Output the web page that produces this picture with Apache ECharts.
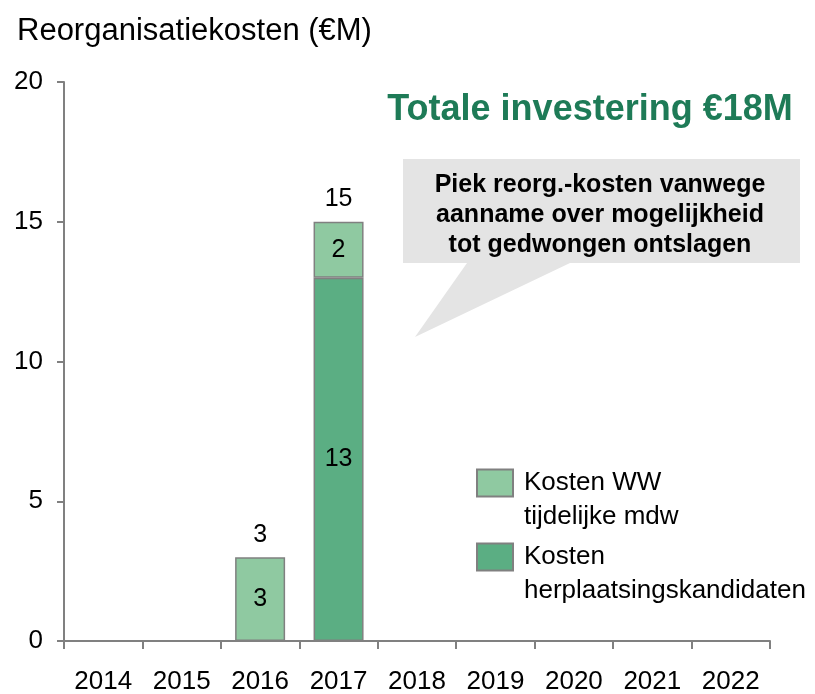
<!DOCTYPE html>
<html>
<head>
<meta charset="utf-8">
<script src="https://cdn.jsdelivr.net/npm/echarts@6/dist/echarts.min.js"></script>
<style>
  html, body { margin: 0; padding: 0; background: #fff; }
  #chart { width: 815px; height: 694px; }
</style>
</head>
<body>
<div id="chart"></div>
<script>
// Reorganisation costs per year, in € million
const years = ['2014', '2015', '2016', '2017', '2018', '2019', '2020', '2021', '2022'];
const herplaatsing = [null, null, null, 13, null, null, null, null, null];
const wwTijdelijk = [null, null, 3, 2, null, null, null, null, null];
const seriesNames = ['Kosten\nherplaatsingskandidaten', 'Kosten WW\ntijdelijke mdw'];
const yTicks = { min: 0, max: 20, interval: 5 };

const totals = years.map((_, i) => {
  const s = (herplaatsing[i] || 0) + (wwTijdelijk[i] || 0);
  return s > 0 ? s : null;
});

const FONT = '"Liberation Sans", Arial, sans-serif';
const GRAY = '#808080';
const LIGHT = '#8FC9A1';
const DARK = '#5BAE83';

const chart = echarts.init(document.getElementById('chart'), null, { renderer: 'canvas' });

const valueText = p => (p.value == null ? '' : String(Math.round(p.value)));

const innerLabel = {
  show: true,
  position: 'inside',
  color: '#000',
  fontFamily: FONT,
  fontSize: 25,
  formatter: valueText
};

chart.setOption({
  animation: false,
  backgroundColor: '#fff',
  textStyle: { fontFamily: FONT },
  grid: { left: 64, right: 45, top: 82, bottom: 53, containLabel: false, outerBoundsMode: 'none' },
  title: [{
    text: 'Reorganisatiekosten (€M)',
    left: 12, top: 11,
    textStyle: { fontFamily: FONT, fontSize: 31, fontWeight: 'normal', color: '#000' }
  }, {
    text: 'Totale investering €18M',
    left: 585, top: 87, textAlign: 'center',
    textStyle: { fontFamily: FONT, fontSize: 36, fontWeight: 'bold', color: '#1E7B57' }
  }],
  legend: {
    orient: 'vertical',
    left: 476, top: 432,
    padding: 0,
    icon: 'rect',
    itemWidth: 36, itemHeight: 27,
    itemGap: -28,
    selectedMode: false,
    data: [seriesNames[1], seriesNames[0]],
    // leading blank line puts the first text line level with the swatch
    formatter: '\n{name}',
    textStyle: {
      fontFamily: FONT, fontSize: 26, lineHeight: 34, color: '#000',
      padding: [0, 0, 0, 6]
    }
  },
  xAxis: {
    type: 'category',
    data: years,
    boundaryGap: true,
    axisLine: { lineStyle: { color: GRAY, width: 2 } },
    axisTick: { show: true, interval: 0, length: 8, lineStyle: { color: GRAY, width: 2 } },
    axisLabel: { interval: 0, margin: 28, color: '#000', fontFamily: FONT, fontSize: 26 },
    splitLine: { show: false }
  },
  yAxis: {
    type: 'value',
    min: yTicks.min, max: yTicks.max, interval: yTicks.interval,
    axisLine: { show: true, lineStyle: { color: GRAY, width: 2 } },
    axisTick: { show: true, length: 7, lineStyle: { color: GRAY, width: 2 } },
    axisLabel: { margin: 21, color: '#000', fontFamily: FONT, fontSize: 26 },
    splitLine: { show: false }
  },
  graphic: [{
    // speech-bubble annotation pointing at the 2017 peak
    type: 'polygon',
    z: 5,
    shape: {
      points: [[403, 159], [800, 159], [800, 263], [570, 263], [415, 337], [467, 263], [403, 263]]
    },
    style: { fill: '#E4E4E4' }
  }, {
    type: 'text',
    z: 6,
    x: 600, y: 215,
    style: {
      text: 'Piek reorg.-kosten vanwege\naanname over mogelijkheid\ntot gedwongen ontslagen',
      fontFamily: FONT, fontSize: 25, fontWeight: 'bold', lineHeight: 30,
      fill: '#000', align: 'center', verticalAlign: 'middle'
    }
  }],
  series: [{
    name: seriesNames[0],
    type: 'bar',
    stack: 'kosten',
    barWidth: 50,
    data: herplaatsing,
    itemStyle: { color: DARK, borderColor: GRAY, borderWidth: 1.5 },
    label: innerLabel
  }, {
    name: seriesNames[1],
    type: 'bar',
    stack: 'kosten',
    barWidth: 50,
    data: wwTijdelijk,
    itemStyle: { color: LIGHT, borderColor: GRAY, borderWidth: 1.5 },
    label: innerLabel
  }, {
    // yearly totals shown above each stack
    name: 'Totaal',
    type: 'scatter',
    data: totals,
    symbolSize: 0,
    silent: true,
    itemStyle: { opacity: 1 },
    label: {
      show: true,
      position: 'top',
      distance: 10,
      color: '#000',
      fontFamily: FONT,
      fontSize: 25,
      formatter: valueText
    }
  }]
});
</script>
</body>
</html>
